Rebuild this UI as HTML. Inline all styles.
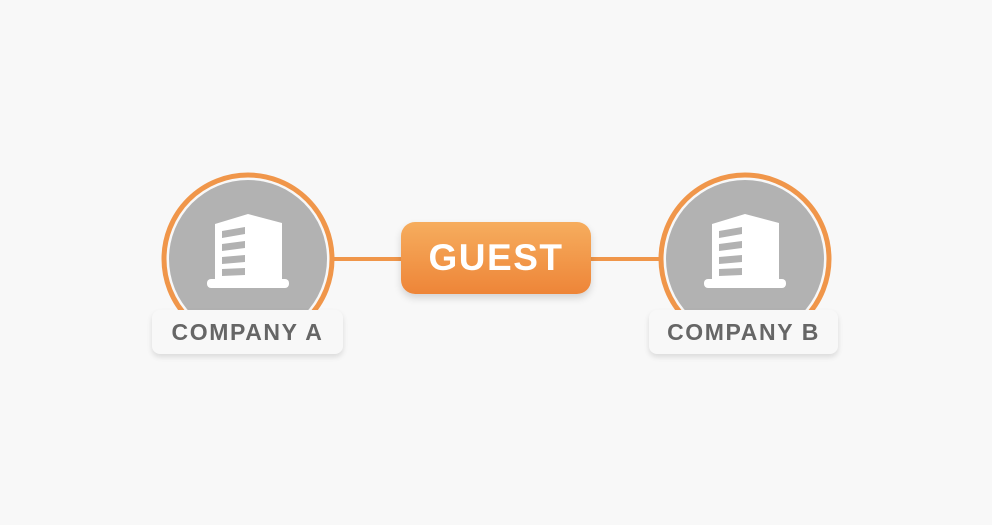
<!DOCTYPE html>
<html><head><meta charset="utf-8"><style>
html,body{margin:0;padding:0;background:#f8f8f8;}
body{width:992px;height:525px;overflow:hidden;position:relative;font-family:"Liberation Sans",sans-serif;}
svg{position:absolute;left:0;top:0;}
.lbl{position:absolute;top:310px;height:44px;background:#f8f8f8;border-radius:8px;box-shadow:0 3px 6px rgba(0,0,0,0.12);color:#666;font-weight:bold;font-size:23px;letter-spacing:1.6px;text-align:center;line-height:45px;}
.guest{position:absolute;left:401px;top:222px;width:190px;height:72px;border-radius:14px;background:linear-gradient(#f6ad5e,#ee8538);box-shadow:0 4px 8px rgba(0,0,0,0.15);color:#fff;font-weight:bold;font-size:37px;letter-spacing:1.5px;text-align:center;line-height:72px;}
</style></head><body>
<svg width="992" height="525" viewBox="0 0 992 525">
<line x1="330" y1="259" x2="662" y2="259" stroke="#f0964a" stroke-width="4"/>
<g id="a">
<circle cx="248" cy="259" r="84" fill="#f8f8f8" stroke="#f0964a" stroke-width="5"/>
<circle cx="248" cy="259" r="79" fill="#b2b2b2"/>
<polygon points="215,224 248,214 282,223 282,282 215,282" fill="#fff"/>
<rect x="207" y="279" width="82" height="9" rx="4" fill="#fff"/>
<polygon points="222,231 245,227 245,234 222,238" fill="#b2b2b2"/>
<polygon points="222,244 245,241 245,248 222,251" fill="#b2b2b2"/>
<polygon points="222,257 245,255 245,262 222,264" fill="#b2b2b2"/>
<polygon points="222,269 245,268 245,275 222,276" fill="#b2b2b2"/>
</g>
<use href="#a" transform="translate(497,0)"/>
</svg>
<div class="lbl" style="left:152px;width:191px;">COMPANY A</div>
<div class="lbl" style="left:649px;width:189px;">COMPANY B</div>
<div class="guest">GUEST</div>
</body></html>
